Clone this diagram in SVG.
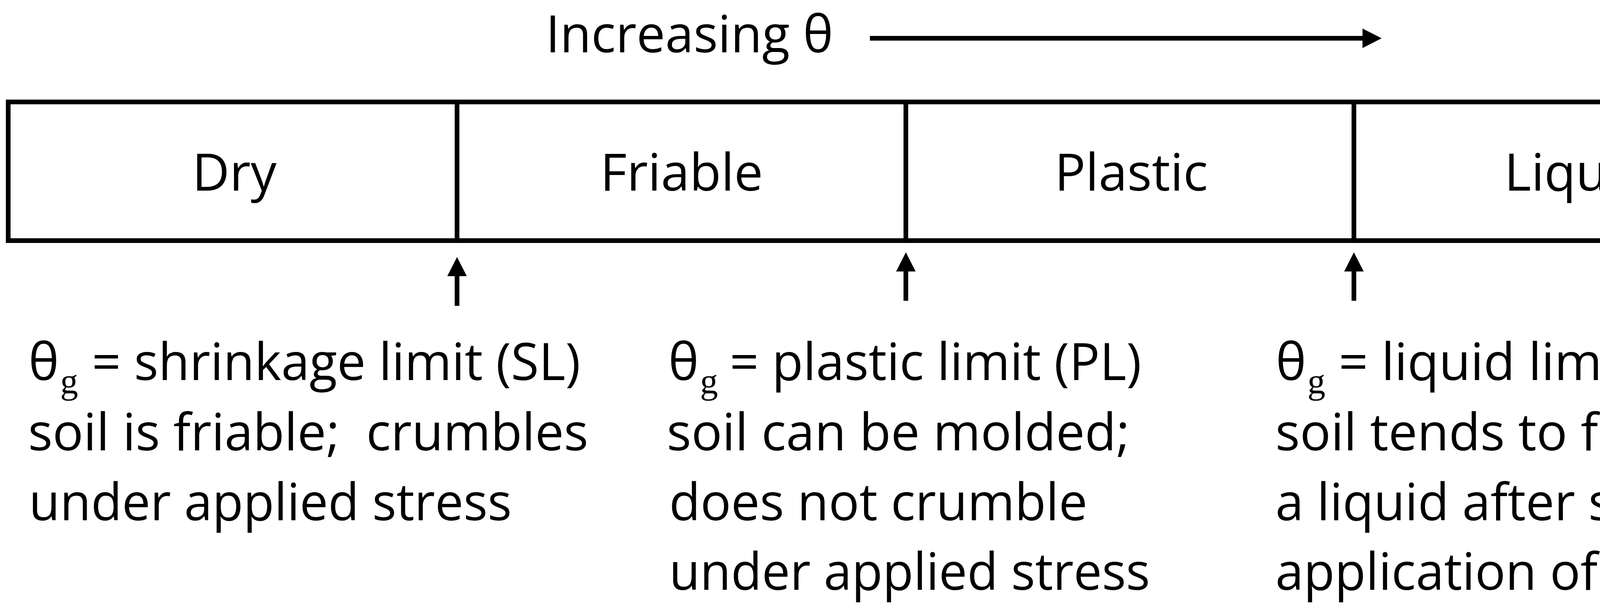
<svg xmlns="http://www.w3.org/2000/svg" width="4646" height="1554" viewBox="0 0 4646 1554">
<style>
.t{font-family:"Open Sans","Noto Sans","DejaVu Sans",sans-serif;font-size:132px;fill:#000;white-space:pre}
.c{text-anchor:middle}
.sub{font-family:"Liberation Serif","DejaVu Serif",serif;font-size:92px;fill:#000}
.cell{fill:#fff;stroke:#000;stroke-width:12}
.ln{stroke:#000;stroke-width:12;fill:none}
</style>
<defs>
<marker id="ah" viewBox="0 0 49 50" refX="0" refY="25" markerWidth="49" markerHeight="50" markerUnits="userSpaceOnUse" orient="auto">
<path d="M0,0 L49,25 L0,50 Z" fill="#000"/>
</marker>
</defs>
<rect width="4646" height="1554" fill="#fff"/>
<g id="title">
<text class="t" x="1397" y="134" textLength="736" lengthAdjust="spacingAndGlyphs">Increasing θ</text>
</g>
<g id="dry">
<rect class="cell" x="21" y="261" width="1149" height="355"/>
<text class="t c" x="600" y="488">Dry</text>
</g>
<g id="friable">
<rect class="cell" x="1170" y="261" width="1149" height="355"/>
<text class="t c" x="1745" y="488">Friable</text>
</g>
<g id="plastic">
<rect class="cell" x="2319" y="261" width="1147" height="355"/>
<text class="t c" x="2896" y="488">Plastic</text>
</g>
<g id="liquid">
<rect class="cell" x="3466" y="261" width="1147" height="355"/>
<text class="t c" x="4040" y="488">Liquid</text>
</g>
<g id="connectors">
<line class="ln" x1="2227" y1="98" x2="3488" y2="98" marker-end="url(#ah)"/>
<line class="ln" x1="1170" y1="783" x2="1170" y2="707" marker-end="url(#ah)"/>
<line class="ln" x1="2319" y1="770" x2="2319" y2="695" marker-end="url(#ah)"/>
<line class="ln" x1="3466" y1="770" x2="3466" y2="695" marker-end="url(#ah)"/>
</g>
<g id="shrinkage-limit">
<text class="t" x="73" y="973">θ</text>
<text class="sub" x="154" y="1007">g</text>
<text class="t" x="235" y="973" textLength="1251" lengthAdjust="spacingAndGlyphs">= shrinkage limit (SL)</text>
<text class="t" x="72" y="1153" textLength="1434" lengthAdjust="spacingAndGlyphs">soil is friable;  crumbles</text>
<text class="t" x="74" y="1332" textLength="1236" lengthAdjust="spacingAndGlyphs">under applied stress</text>
</g>
<g id="plastic-limit">
<text class="t" x="1711" y="973">θ</text>
<text class="sub" x="1792" y="1007">g</text>
<text class="t" x="1868" y="973" textLength="1054" lengthAdjust="spacingAndGlyphs">= plastic limit (PL)</text>
<text class="t" x="1707" y="1153" textLength="1185" lengthAdjust="spacingAndGlyphs">soil can be molded;</text>
<text class="t" x="1713" y="1332" textLength="1071" lengthAdjust="spacingAndGlyphs">does not crumble</text>
<text class="t" x="1713" y="1510" textLength="1231" lengthAdjust="spacingAndGlyphs">under applied stress</text>
</g>
<g id="liquid-limit">
<text class="t" x="3266" y="973">θ</text>
<text class="sub" x="3347" y="1007">g</text>
<text class="t" x="3427" y="973" textLength="1004" lengthAdjust="spacingAndGlyphs">= liquid limit (LL)</text>
<text class="t" x="3265" y="1153" textLength="1284" lengthAdjust="spacingAndGlyphs">soil tends to flow like</text>
<text class="t" x="3265" y="1332" textLength="1256" lengthAdjust="spacingAndGlyphs">a liquid after sudden</text>
<text class="t" x="3265" y="1510" textLength="1217" lengthAdjust="spacingAndGlyphs">application of stress</text>
</g>
</svg>
